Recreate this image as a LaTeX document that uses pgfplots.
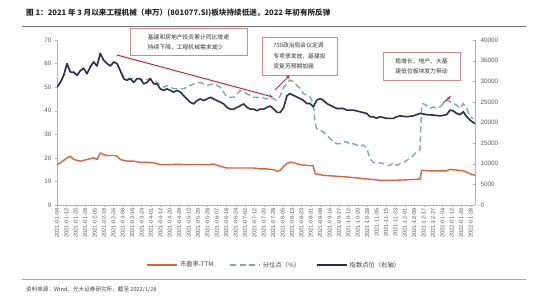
\documentclass[border=0pt]{standalone}
\usepackage{pgfplots}
\pgfplotsset{compat=1.18}
\usepackage{fontspec}
\setmainfont{Liberation Sans}
\newfontfamily\cjk{Noto Sans CJK SC}
\usetikzlibrary{shadows,arrows.meta}
\definecolor{pe}{RGB}{214,100,62}
\definecolor{pct}{RGB}{125,170,172}
\definecolor{idx}{RGB}{42,46,78}
\definecolor{arr}{RGB}{176,48,64}
\definecolor{boxc}{RGB}{205,140,140}
\definecolor{tickc}{RGB}{90,90,90}
\pgfplotsset{/pgf/number format/assume math mode=true}
\begin{document}
\begin{tikzpicture}[x=1pt,y=1pt]
\useasboundingbox (0,0) rectangle (550,308);
\node[anchor=west, inner sep=0pt, font=\cjk\bfseries\fontsize{7.6}{9}\selectfont, text=black!85] at (26,295) {图 1：2021 年 3 月以来工程机械（申万）(801077.SI)板块持续低迷，2022 年初有所反弹};
\draw[black!55, line width=1pt] (22,281) -- (526,281);
\draw[black!35, line width=0.8pt] (22,29) -- (526,29);
\node[anchor=west, inner sep=0pt, font=\cjk\fontsize{5.6}{7}\selectfont, text=black!75] at (26,18) {资料来源：Wind，光大证券研究所，截至 2022/1/28};

\begin{axis}[
  at={(57pt,103pt)}, anchor=south west,
  width=418pt, height=165pt, scale only axis,
  xmin=0, xmax=418, ymin=0, ymax=70,
  axis y line*=left, axis x line*=bottom,
  ytick={0,10,...,70},
  xtick={0,9.4,...,414},
  xticklabels={2021-01-04,2021-01-12,2021-01-20,2021-01-28,2021-02-05,2021-02-18,2021-02-26,2021-03-08,2021-03-16,2021-03-24,2021-04-01,2021-04-12,2021-04-20,2021-04-28,2021-05-12,2021-05-20,2021-05-28,2021-06-07,2021-06-16,2021-06-24,2021-07-02,2021-07-12,2021-07-20,2021-07-28,2021-08-05,2021-08-13,2021-08-23,2021-08-31,2021-09-08,2021-09-16,2021-09-27,2021-10-12,2021-10-20,2021-10-28,2021-11-05,2021-11-15,2021-11-23,2021-12-01,2021-12-09,2021-12-17,2021-12-27,2022-01-04,2022-01-12,2022-01-20,2022-01-28},
  x tick label style={rotate=90, anchor=east, font=\fontsize{5.6}{6}\selectfont, text=tickc, inner sep=1.5pt},
  y tick label style={font=\fontsize{6.3}{7}\selectfont, text=tickc},
  axis line style={black!30, line width=0.6pt},
  tick style={black!30},
  tick align=outside, major tick length=2pt,
  legend style={at={(0.52,-0.364)}, anchor=center, draw=none, fill=none, legend columns=3,
    font=\cjk\fontsize{6.3}{7}\selectfont, text=black!75,
    /tikz/every even column/.append style={column sep=14pt}},
  legend image code/.code={\draw[#1] (0pt,0pt) -- (30pt,0pt);},
]
\addplot[pe, line width=1.4pt, line join=round] coordinates {
(0,17.1)(3.3,17.9)(10,20)(13.3,20.7)(16.7,19.3)(23.3,18.6)(30,19.3)(36.7,20)(40,19.3)(43.3,22.1)(46.7,21.4)(50,21)(56.7,21)(60,20.7)(63.3,19.3)(70,18.6)(76.7,18.6)(83.3,18.1)(90,18.1)(96.7,17.9)(103.3,17.1)(110,17.1)(120,17.3)(130,17.1)(140,17.2)(150,17.1)(156.7,17.4)(163.3,16.4)(170,15.7)(176.7,15.7)(190,15.7)(196.7,15.7)(203.3,15.3)(210,15.3)(216.7,15)(220,14.3)(223.3,14.7)(226.7,16.4)(230,17.6)(233,18.2)(236.3,18)(243,17.1)(249.7,16.8)(256.3,16.6)(258,13.3)(266.3,12.6)(276.3,12.3)(289.7,11.9)(306.3,11.2)(323,10.5)(339.7,10.5)(356.3,10.8)(363,11)(364.7,14.7)(373,14.5)(389.7,14.5)(393,15.1)(399.7,14.8)(406.3,14.5)(413,13.3)(418,12.6)
};
\addlegendentry{市盈率-TTM}
\addplot[pct, line width=1.4pt, dash pattern=on 6pt off 3.5pt] coordinates {
(0,50)(3.3,52)(6.7,55)(10,60)(13.3,56.4)(16.7,56)(20,55)(23.3,57)(26.7,58)(30,55.7)(33.3,58.6)(36.7,60.7)(40,59)(43.3,64)(46.7,61.4)(50,60)(53.3,59)(56.7,60.5)(60,60)(63.3,57)(66.7,54.3)(73.3,53.6)(80,53.6)(86.7,52.9)(93.3,53.6)(100,52)(106.7,50)(110,50.7)(116.7,49.3)(123.3,49.3)(126.7,49.3)(130,50)(136.7,51.4)(143.3,52)(146.7,51.4)(150,50.7)(156.7,51.4)(163.3,50)(166.7,47.9)(170,45.7)(176.7,45.7)(183.3,48.6)(186.7,47.9)(190,47.1)(196.7,45.7)(203.3,45.7)(210,45)(213.3,45.7)(216.7,45)(220,44.3)(223.3,46.4)(226.7,50)(230,51.5)(233,53)(236.3,52.3)(239.7,50.8)(243,49.5)(246.3,47.3)(249.7,46.6)(253,45.9)(256.3,43)(258,35.4)(259.7,32.4)(263,32)(266.3,31)(269.7,29.5)(273,28.2)(276.3,27)(279.7,26)(283,26)(286.3,26.8)(289.7,26.8)(293,25.6)(296.3,26)(299.7,25.4)(303,24.8)(306.3,25.4)(309.7,24.2)(313,19.6)(316.3,18.2)(319.7,17.5)(323,17.9)(326.3,17.5)(329.7,16.8)(333,16.8)(336.3,17.9)(339.7,16.8)(343,17.5)(346.3,17.9)(349.7,18.9)(353,19.8)(356.3,21)(359.7,22.5)(363,23.3)(364.7,42.4)(366.3,43)(369.7,42.2)(373,41)(376.3,41.6)(379.7,41)(383,41.6)(386.3,43)(389.7,44.5)(393,43.8)(396.3,43)(399.7,42.4)(403,41)(406.3,43)(409.7,41)(413,37.5)(416.3,36.6)
};
\addlegendentry{分位点（\%）}
\addlegendimage{idx, line width=1.6pt}
\addlegendentry{指数点位（右轴）}
\end{axis}

\begin{axis}[
  at={(57pt,103pt)}, anchor=south west,
  width=418pt, height=165pt, scale only axis,
  xmin=0, xmax=418, ymin=0, ymax=40000,
  axis y line*=right, axis x line=none,
  ytick={0,5000,...,40000},
  scaled y ticks=false,
  y tick label style={font=\fontsize{6.3}{7}\selectfont, text=tickc, /pgf/number format/1000 sep={}, /pgf/number format/fixed, xshift=2pt},
  axis line style={black!30, line width=0.6pt},
  tick style={black!30},
  tick align=inside, major tick length=2pt,
]
\addplot[idx, line width=1.6pt, line join=round] coordinates {
(0,28570)(3.3,29710)(6.7,31430)(10,34280)(13.3,32230)(16.7,32230)(20,31430)(23.3,32570)(26.7,33140)(30,31830)(33.3,33480)(36.7,34680)(40,33710)(43.3,36740)(46.7,35080)(50,34280)(53.3,33710)(56.7,34680)(60,34280)(63.3,32570)(66.7,30630)(70,30230)(73.3,30630)(76.7,29710)(80,30630)(83.3,30630)(86.7,29370)(90,29710)(93.3,30630)(96.7,29370)(100,29370)(103.3,28170)(106.7,27770)(110,28170)(113.3,27770)(116.7,27370)(120,27770)(123.3,27370)(126.7,26510)(130,25710)(133.3,24910)(136.7,24510)(140,25310)(143.3,25710)(146.7,25310)(150,25710)(153.3,26110)(156.7,25710)(160,25310)(163.3,24910)(166.7,24510)(170,23660)(173.3,23260)(176.7,23260)(180,23660)(183.3,24060)(186.7,24510)(190,23660)(193.3,23260)(196.7,23260)(200,22860)(203.3,23260)(206.7,23260)(210,23660)(213.3,24000)(216.7,23260)(220,22460)(223.3,22460)(226.7,23660)(230,26510)(233,27000)(236.3,26600)(239.7,26200)(243,25800)(246.3,25400)(249.7,24600)(253,24600)(256.3,23800)(259.7,25400)(263,25800)(266.3,25400)(269.7,24600)(273,24200)(276.3,23800)(279.7,23400)(283,23400)(286.3,23400)(289.7,23000)(296.3,23000)(303,22600)(309.7,22200)(313,21400)(316.3,21400)(319.7,21000)(323,21400)(329.7,21000)(336.3,21000)(339.7,21400)(343,21600)(349.7,21400)(356.3,21600)(359.7,21900)(363,22200)(369.7,21900)(376.3,21800)(383,21600)(389.7,21900)(393,23000)(396.3,22800)(399.7,22200)(403,21900)(406.3,22600)(409.7,21400)(413,20600)(418,19700)
};
\end{axis}

% annotations
\draw[arr, line width=1pt, -{Stealth[length=4pt]}] (117,253) -- (273,211);
\draw[arr, line width=1pt, -{Stealth[length=4pt]}] (275,218) -- (290,233);
\draw[arr, line width=1pt, -{Stealth[length=4pt]}] (443,205) -- (451,212);
\node[draw=boxc, fill=white, drop shadow={opacity=0.2, shadow xshift=1pt, shadow yshift=-1pt}, minimum width=117pt, minimum height=27pt, align=left, font=\cjk\fontsize{5.8}{10}\selectfont, text=black!80] at (188.5,266) {基建和房地产投资累计同比增速\\持续下降，工程机械需求减少};
\node[draw=boxc, fill=white, drop shadow={opacity=0.2, shadow xshift=1pt, shadow yshift=-1pt}, minimum width=75pt, minimum height=38pt, align=left, font=\cjk\fontsize{5.8}{10.5}\selectfont, text=black!80] at (299.5,252) {730政治局会议定调\\专项债发放，基建投\\资复苏预期加强};
\node[draw=boxc, fill=white, drop shadow={opacity=0.2, shadow xshift=1pt, shadow yshift=-1pt}, minimum width=77pt, minimum height=28pt, align=left, font=\cjk\fontsize{5.8}{10}\selectfont, text=black!80] at (421.5,242) {稳增长，地产、大基\\建低位板块发力带动};
\end{tikzpicture}
\end{document}
